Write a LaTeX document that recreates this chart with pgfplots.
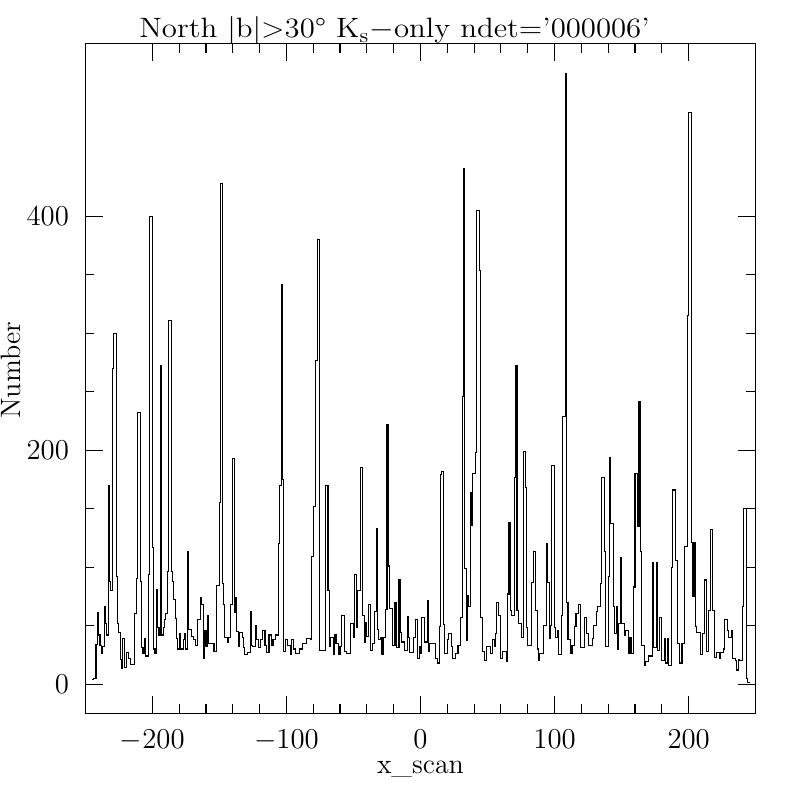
\documentclass[border=0pt]{standalone}
\usepackage{graphicx}
\usepackage{pgfplots}
\pgfplotsset{compat=1.18}
\begin{document}
\begin{tikzpicture}
\path[use as bounding box] (-42.65pt,-43.35pt) rectangle (357.35pt,356.65pt);
\begin{axis}[
  at={(0pt,0pt)}, anchor=south west,
  scale only axis, width=335.2pt, height=335pt,
  xmin=-250, xmax=250, ymin=-25, ymax=548,
  xtick={-200,-100,0,100,200}, ytick={0,200,400},
  minor x tick num=4, minor y tick num=3,
  tick align=inside, xtick pos=both, ytick pos=both,
  xticklabel pos=lower, yticklabel pos=left,
  major tick length=8.7pt, minor tick length=4.6pt,
  every tick/.style={black, line width=0.55pt},
  axis line style={line width=0.55pt},
  tick label style={font=\fontsize{14}{17}\selectfont, inner sep=0pt},
  xticklabel style={anchor=north, yshift=-8pt},
  yticklabel style={anchor=east, xshift=-8pt},
  xlabel={x\_scan}, ylabel={Number},
  label style={font=\fontsize{14}{17}\selectfont, inner sep=0pt},
  xlabel style={at={(axis description cs:0.5,-0.0905)}, anchor=base},
  ylabel style={at={(axis description cs:-0.0964,0.512)}, anchor=base, rotate=0},
  title={\scalebox{1.1}[1]{North |b|>30° K$_{\mathrm{s}}$$-$only ndet='000006'}},
  title style={at={(axis description cs:0.0801,1.0096)}, anchor=base west, yshift=-6.5pt, inner sep=0pt, font=\fontsize{14}{17}\selectfont},
]
\addplot[const plot, black, line width=0.55pt, mark=none] coordinates {
(-245,4) (-244,5) (-242,34) (-241,61) (-240,42) (-239,33) (-238,26) (-237,32) (-236,66) (-235,52)
(-234,42) (-233,170) (-232,88) (-231,80) (-230,270) (-229,300) (-227,92) (-226,52) (-225,44) (-224,21)
(-223,13) (-222,39) (-221,14) (-219,27) (-218,22) (-216,17) (-213,60) (-212,90) (-211,232) (-209,88)
(-208,31) (-207,26) (-206,39) (-205,24) (-203,94) (-202,400) (-200,117) (-199,30) (-198,26) (-197,81)
(-196,48) (-195,42) (-194,272) (-193,42) (-192,48) (-191,55) (-190,60) (-189,96) (-188,311) (-186,96)
(-185,88) (-184,72) (-183,56) (-182,39) (-181,30) (-180,43) (-179,30) (-177,38) (-176,43) (-175,30)
(-174,113) (-173,47) (-171,41) (-169,38) (-168,33) (-166,55) (-164,74) (-163,68) (-162,22) (-161,46)
(-160,32) (-159,59) (-158,35) (-154,28) (-152,84) (-150,155) (-149,428) (-148,86) (-147,68) (-146,40)
(-144,36) (-143,40) (-142,68) (-140,193) (-139,61) (-138,74) (-137,45) (-136,32) (-135,44) (-133,40)
(-132,31) (-131,25) (-129,27) (-127,62) (-126,33) (-125,32) (-123,50) (-122,38) (-121,31) (-119,38)
(-118,46) (-116,33) (-115,27) (-113,42) (-111,33) (-110,38) (-108,42) (-106,120) (-105,170) (-104,342)
(-103,175) (-102,28) (-101,38) (-99,33) (-97,25) (-96,38) (-95,30) (-93,26) (-90,30) (-88,35)
(-85,39) (-82,38) (-81,109) (-80,152) (-78,277) (-77,380) (-75,29) (-71,170) (-69,80) (-68,32)
(-67,40) (-65,25) (-64,42) (-63,35) (-61,25) (-60,32) (-59,59) (-57,28) (-55,26) (-52,52)
(-50,40) (-49,94) (-48,48) (-47,80) (-45,185) (-43,59) (-42,36) (-41,53) (-40,41) (-39,68)
(-37,29) (-36,35) (-34,62) (-33,133) (-32,47) (-31,38) (-30,40) (-29,25) (-28,40) (-26,64)
(-25,222) (-24,101) (-23,65) (-21,33) (-19,70) (-18,31) (-16,89) (-15,44) (-14,36) (-12,29)
(-10,58) (-9,40) (-8,27) (-5,40) (-4,55) (-2,22) (-1,32) (0,26) (1,57) (3,36)
(5,71) (6,28) (7,35) (11,22) (13,18) (14,49) (15,179) (16,182) (17,51) (18,26)
(20,38) (21,43) (23,32) (24,22) (26,26) (28,33) (30,57) (31,246) (32,441) (33,99)
(34,37) (35,76) (36,66) (37,164) (38,136) (39,180) (41,198) (42,405) (44,354) (45,57)
(46,28) (48,20) (49,32) (52,26) (54,38) (55,32) (56,43) (57,70) (58,59) (60,22)
(61,28) (64,19) (65,77) (66,138) (67,63) (68,59) (70,177) (71,272) (72,63) (73,52)
(75,40) (77,199) (78,168) (79,48) (80,33) (83,87) (84,113) (86,63) (87,30) (88,20)
(89,26) (92,50) (94,120) (95,87) (96,39) (97,50) (98,187) (100,48) (101,40) (102,46)
(103,25) (105,59) (106,229) (108,522) (109,70) (110,38) (112,26) (113,33) (115,49) (116,60)
(118,68) (119,31) (122,57) (124,43) (125,33) (128,39) (129,50) (131,62) (132,66) (134,86)
(135,177) (137,113) (138,32) (140,92) (141,194) (142,137) (144,66) (145,43) (146,66) (147,30)
(148,52) (149,108) (150,52) (152,42) (153,46) (155,26) (156,40) (157,26) (159,83) (160,180)
(162,135) (163,242) (164,113) (165,33) (167,16) (168,19) (170,24) (173,104) (174,31) (176,104)
(177,29) (178,57) (180,20) (182,39) (183,18) (184,39) (185,16) (187,100) (188,166) (190,106)
(192,35) (193,18) (195,35) (197,118) (199,315) (200,489) (202,121) (203,75) (204,121) (205,49)
(206,44) (209,25) (210,43) (212,89) (213,28) (215,63) (216,132) (218,63) (219,23) (221,27)
(223,22) (224,27) (226,30) (227,55) (229,46) (230,40) (232,46) (233,22) (235,20) (236,12)
(237,21) (238,20) (240,66) (241,150) (243,5) (244,1) (246,1)
};
\end{axis}
\end{tikzpicture}
\end{document}
